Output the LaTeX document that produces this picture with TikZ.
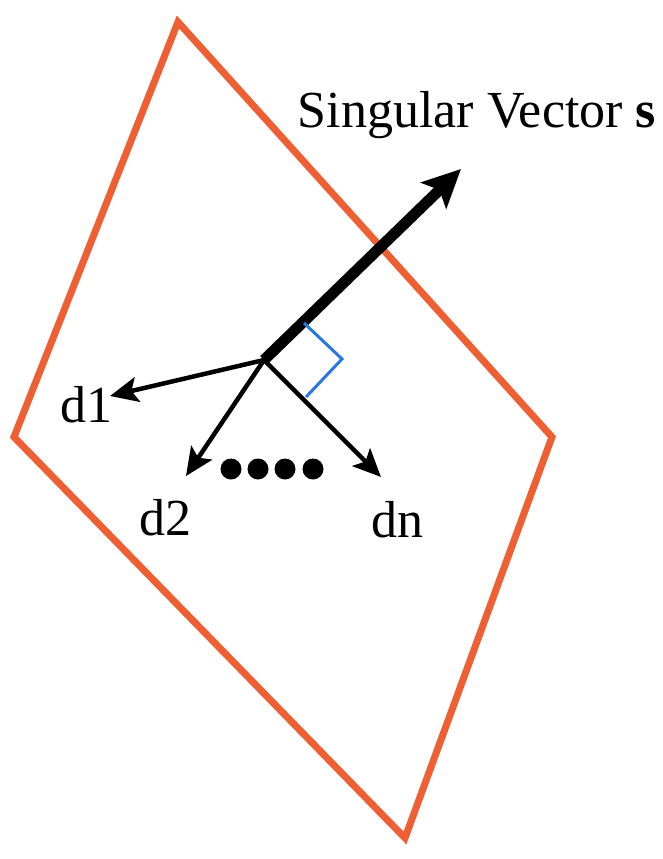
\documentclass[tikz,border=0pt]{standalone}
\usepackage{fontspec}
\setmainfont{Liberation Serif}
\usepackage{tikz}
\usetikzlibrary{arrows.meta,positioning}
\definecolor{planeorange}{RGB}{238,96,52}
\definecolor{angleblue}{RGB}{40,120,225}

\begin{document}
\begin{tikzpicture}[x=1pt, y=-1pt,
plane/.style={draw=planeorange, line width=7pt, line join=miter},
dirarrow/.style={-{Stealth[length=28pt, width=25pt, inset=6pt]}, line width=4.5pt},
svecarrow/.style={-{Stealth[length=38pt, width=36pt, inset=8pt]}, line width=11pt},
rightangle/.style={draw=angleblue, line width=3pt},
lbl/.style={font=\fontsize{52}{56}\selectfont, inner sep=0pt},
dotmark/.style={circle, fill, minimum size=21pt, inner sep=0pt}
]
\useasboundingbox (0,0) rectangle (662,859);
\coordinate (ptop) at (178,22);
\coordinate (pleft) at (14,437);
\coordinate (pbottom) at (405,838);
\coordinate (pright) at (552,437);
\coordinate (hub) at (264,360);
\coordinate (stip) at (461,169);
\coordinate (d1tip) at (110,396);
\coordinate (d2tip) at (186,476);
\coordinate (dntip) at (381,477);
\coordinate (aone) at (304,323);
\coordinate (acorner) at (342,359);
\coordinate (atwo) at (306,397);
\draw[plane] (ptop) -- (pleft) -- (pbottom) -- (pright) -- cycle;
\draw[svecarrow] (hub) -- (stip);
\draw[dirarrow] (hub) -- (d1tip);
\draw[dirarrow] (hub) -- (d2tip);
\draw[dirarrow] (hub) -- (dntip);
\draw[rightangle] (aone) -- (acorner) -- (atwo);
\foreach \x/\n in {231/1, 258/2, 285/3, 313/4}
  \node[dotmark] (dot\n) at (\x,469) {};
\node[lbl, anchor=base] (title) at (477,127) {Singular Vector \textbf{s}};
\node[lbl] (d1) at (86,405) {d1};
\node[lbl] (d2) at (165,518) {d2};
\node[lbl] (dn) at (397,520) {dn};
\end{tikzpicture}
\end{document}
